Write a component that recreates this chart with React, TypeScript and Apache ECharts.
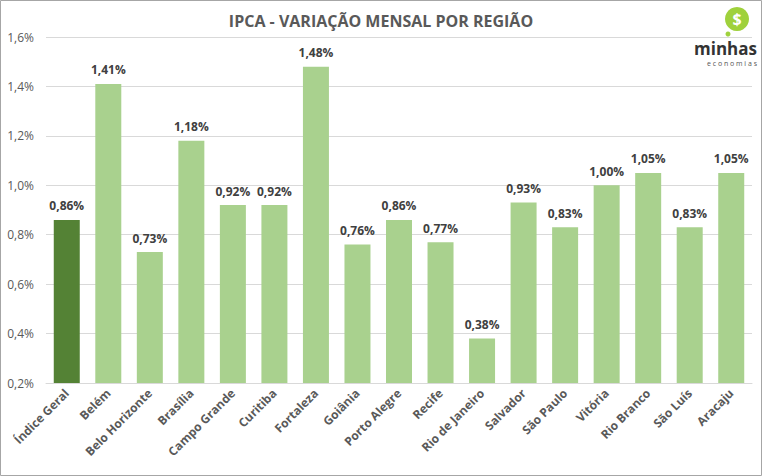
import React, { useEffect, useRef } from "react";
import * as echarts from "echarts";

const categories = [
  "Índice Geral", "Belém", "Belo Horizonte", "Brasília", "Campo Grande", "Curitiba",
  "Fortaleza", "Goiânia", "Porto Alegre", "Recife", "Rio de Janeiro", "Salvador",
  "São Paulo", "Vitória", "Rio Branco", "São Luís", "Aracaju",
];
const values = [0.86, 1.41, 0.73, 1.18, 0.92, 0.92, 1.48, 0.76, 0.86, 0.77, 0.38, 0.93, 0.83, 1.0, 1.05, 0.83, 1.05];
const highlightIndex = 0;
const yMin = 0.2;
const yMax = 1.6;
const yInterval = 0.2;

const FONT = "'Liberation Sans Narrow', 'Open Sans', Roboto, sans-serif";
const fmt = (v: number, d: number) => v.toFixed(d).replace(".", ",") + "%";

export default function App() {
  const ref = useRef<HTMLDivElement>(null);
  useEffect(() => {
    if (!ref.current) return;
    const chart = echarts.init(ref.current, undefined, { renderer: "svg" });
    chart.setOption({
      animation: false,
      backgroundColor: "#ffffff",
      title: {
        text: "IPCA - VARIAÇÃO MENSAL POR REGIÃO",
        left: "center",
        top: 8,
        textStyle: { fontFamily: FONT, fontSize: 16, fontWeight: "bold", color: "#595959" },
      },
      grid: { left: 46, right: 10, top: 37, bottom: 93 },
      xAxis: {
        type: "category",
        data: categories,
        axisLine: { lineStyle: { color: "#d9d9d9" } },
        axisTick: { show: false },
        axisLabel: {
          rotate: 45,
          interval: 0,
          fontFamily: FONT,
          fontSize: 12,
          fontWeight: "bold",
          color: "#595959",
          margin: 8,
        },
      },
      yAxis: {
        type: "value",
        min: yMin,
        max: yMax,
        interval: yInterval,
        axisLine: { show: false },
        axisTick: { show: false },
        splitLine: { lineStyle: { color: "#d9d9d9" } },
        axisLabel: {
          formatter: (v: number) => fmt(v, 1),
          fontFamily: FONT,
          fontSize: 12,
          color: "#595959",
          margin: 12,
        },
      },
      series: [
        {
          type: "bar",
          data: values.map((v, i) => ({
            value: v,
            itemStyle: { color: i === highlightIndex ? "#548235" : "#a9d18e" },
          })),
          barWidth: 26,
          label: {
            show: true,
            position: "top",
            distance: 8,
            formatter: (p: any) => fmt(p.value, 2),
            fontFamily: FONT,
            fontSize: 12,
            fontWeight: "bold",
            color: "#404040",
          },
        },
      ],
      graphic: [
        {
          type: "rect",
          shape: { x: 0.5, y: 0.5, width: 761, height: 475 },
          style: { fill: "none", stroke: "#a6a6a6", lineWidth: 1 },
          silent: true,
        },
        {
          type: "circle",
          shape: { cx: 737, cy: 19, r: 12 },
          style: { fill: "#9fd13c" },
        },
        {
          type: "circle",
          shape: { cx: 728, cy: 34, r: 2.5 },
          style: { fill: "#9fd13c" },
        },
        {
          type: "text",
          x: 737,
          y: 19,
          style: {
            text: "$",
            fill: "#ffffff",
            font: "bold 16px " + FONT,
            align: "center",
            verticalAlign: "middle",
          },
        },
        {
          type: "text",
          x: 757,
          y: 57,
          style: {
            text: "minhas",
            fill: "#333333",
            font: "bold 17px " + FONT,
            align: "right",
            verticalAlign: "bottom",
          },
        },
        {
          type: "text",
          x: 757,
          y: 63,
          style: {
            text: "e c o n o m i a s",
            fill: "#555555",
            font: "7px " + FONT,
            align: "right",
            verticalAlign: "middle",
          },
        },
      ],
    });
    return () => chart.dispose();
  }, []);
  return (
    <div
      ref={ref}
      style={{ position: "fixed", left: 0, top: 0, width: 762, height: 476 }}
    />
  );
}
